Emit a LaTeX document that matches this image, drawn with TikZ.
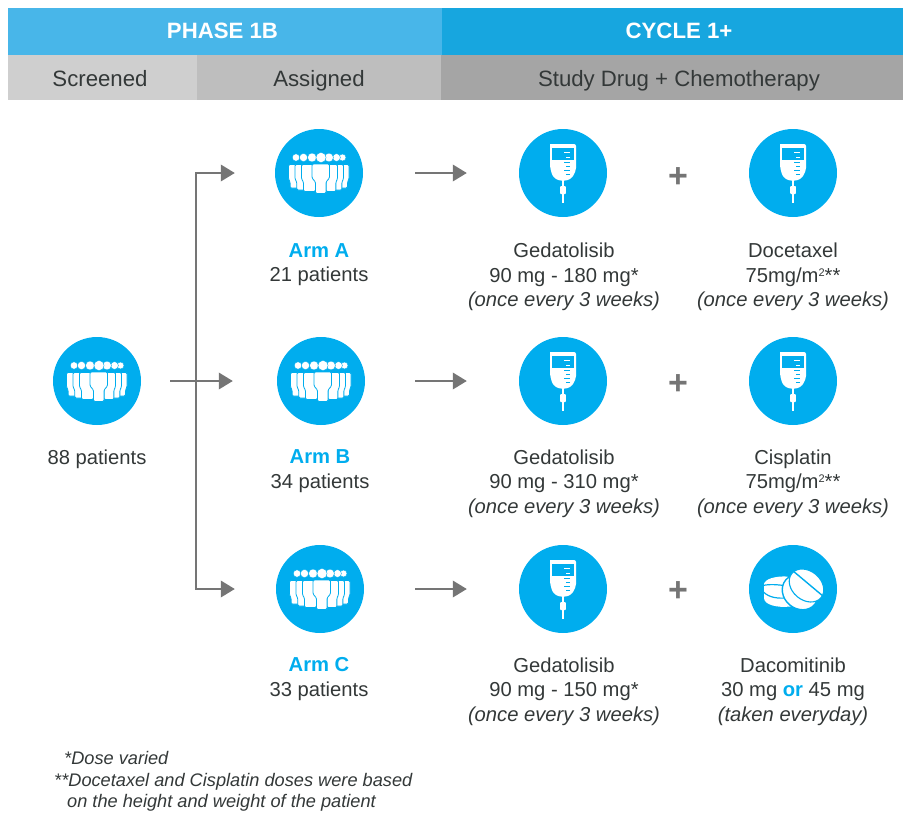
\documentclass[tikz,border=0pt]{standalone}
\usepackage{fontspec}
\setmainfont{Liberation Sans}
\usetikzlibrary{arrows.meta}
\definecolor{cblue}{HTML}{00ADEE}
\definecolor{hblueA}{HTML}{48B6E9}
\definecolor{hblueB}{HTML}{17A6DF}
\definecolor{greyA}{HTML}{CFCFCF}
\definecolor{greyB}{HTML}{BEBEBE}
\definecolor{greyC}{HTML}{A5A5A5}
\definecolor{txt}{HTML}{333838}
\definecolor{arrowc}{HTML}{757575}
\tikzset{
 x=1pt,y=-1pt,
 iconcirc/.style={circle,fill=cblue,draw=none,minimum size=88pt,inner sep=0pt},
 flowarrow/.style={draw=arrowc,line width=2pt,-{Triangle[length=14pt,width=16.5pt]}},
 hdr/.style={font=\fontsize{22.2}{26}\selectfont\bfseries,text=white,anchor=base,inner sep=0pt},
 sub/.style={font=\fontsize{22.2}{26}\selectfont,text=txt,anchor=base,inner sep=0pt},
 lab/.style={font=\fontsize{20.2}{24.5}\selectfont,text=txt,align=center,anchor=north,inner sep=0pt},
 plusn/.style={font=\fontsize{34}{34}\selectfont\bfseries,text=arrowc,anchor=center,inner sep=0pt},
 note/.style={font=\fontsize{18.2}{22.6}\selectfont\itshape,text=txt,align=left,anchor=north west,inner sep=0pt},
 body/.style={fill=white,draw=cblue,line width=.8pt},
 head/.style={fill=white,draw=cblue,line width=.4pt},
}
\newcommand{\peopleicon}{%
  \foreach \hx/\hr in {-23/3.7,-15.5/4.1,-7/4.5,23.5/3.5,17.5/3.9,10/4.4,2/5.1}
    \path[head] (\hx,-15.5) circle[radius=\hr];
  \foreach \bx/\by/\hw in {-24/15/6.5,24/15/6,-17/17/7,18/17/6.5,-9.5/18.5/8,12/18.5/6.5}
    \path[body,rounded corners=1.2pt] (\bx-\hw,-8.5) -- (\bx+\hw,-8.5) -- (\bx+\hw,6) -- (\bx+.75*\hw,9) -- (\bx+.75*\hw,\by) -- (\bx-.75*\hw,\by) -- (\bx-.75*\hw,9) -- (\bx-\hw,6) -- cycle;
  \path[body,rounded corners=1.2pt] (-7,-9) -- (10.5,-9) -- (10.5,5) -- (7,9) -- (7,20.5) -- (-3.5,20.5) -- (-3.5,9) -- (-7,5) -- cycle;
}
\newcommand{\bagicon}{%
  \fill[white,rounded corners=2pt] (-13,-29) -- (13,-29) -- (13,-3) [rounded corners=6pt]-- (8,7.5) -- (-8,7.5) -- (-13,-3) [sharp corners] -- cycle;
  \fill[cblue] (-10.7,-25.5) rectangle (10.7,-13);
  \foreach \yy/\xa in {-21/1,-16.5/3} \fill[white] (\xa,\yy) rectangle (7,\yy+1.4);
  \foreach \yy/\xa in {-11/1,-7/3,-3/1,1/3} \fill[cblue] (\xa,\yy) rectangle (7,\yy+1.3);
  \fill[white] (-1.1,7) rectangle (1.1,30);
  \fill[white,rounded corners=.8pt] (-2.8,13) rectangle (2.8,21);
}
\newcommand{\pillicon}{%
  \fill[white] (-29,-5) .. controls (-28,-10) and (-18,-13) .. (-6,-12.5) -- (2,-8) -- (2,16) -- (-3,17.5) .. controls (-15,19) and (-29,16) .. (-29,9) -- cycle;
  \draw[cblue,line width=1.2pt] (-30,-3.5) .. controls (-24,-5) and (-15,-4.5) .. (-6,-3);
  \draw[cblue,line width=1.2pt] (-30,2.5) .. controls (-24,9) and (-15,9.5) .. (-6,9);
  \begin{scope}[shift={(9.5,0.5)},rotate=-40]
   \path[fill=white,draw=cblue,line width=1.4pt] (0,3.5) ellipse[x radius=19,y radius=16.5];
  \end{scope}
  \begin{scope}[shift={(13.5,-3.5)},rotate=-40]
   \path[fill=white,draw=cblue,line width=1.1pt] (0,0) ellipse[x radius=19,y radius=14.5];
   \draw[cblue,line width=1.4pt] (-19,-2.5) -- (19,-2.5);
  \end{scope}
}
\begin{document}
\begin{tikzpicture}
\useasboundingbox (0,0) rectangle (903,812);
\fill[hblueA] (8,8) rectangle (442,55);
\fill[hblueB] (442,8) rectangle (903,55);
\fill[greyA] (8,55) rectangle (197,100);
\fill[greyB] (197,55) rectangle (441,100);
\fill[greyC] (441,55) rectangle (903,100);
\node[hdr] (h1) at (222.5,38.5) {PHASE 1B};
\node[hdr] (h2) at (679,38.5) {CYCLE 1+};
\node[sub] (s1) at (100,86) {Screened};
\node[sub] (s2) at (319,86) {Assigned};
\node[sub] (s3) at (679,86) {Study Drug + Chemotherapy};

\node[iconcirc] (p0) at (97,381) {};
\node[iconcirc] (pa) at (319,173) {};
\node[iconcirc] (pb) at (321,381) {};
\node[iconcirc] (pc) at (320,589) {};
\node[iconcirc] (ga) at (563,173) {};
\node[iconcirc] (gb) at (563,381) {};
\node[iconcirc] (gc) at (563,589) {};
\node[iconcirc] (da) at (793,173) {};
\node[iconcirc] (db) at (793,381) {};
\node[iconcirc] (dc) at (793,589) {};

\foreach \n in {p0,pa,pb,pc} {\begin{scope}[shift={(\n.center)}]\peopleicon\end{scope}}
\foreach \n in {ga,gb,gc,da,db} {\begin{scope}[shift={(\n.center)}]\bagicon\end{scope}}
\begin{scope}[shift={(dc.center)}]\pillicon\end{scope}

\coordinate (tk) at (196,381);
\draw[flowarrow,shorten <=29pt,shorten >=44pt] (p0.east) -- (pb.west);
\draw[flowarrow,shorten >=40pt] (tk) |- (pa.west);
\draw[flowarrow,shorten >=41pt] (tk) |- (pc.west);
\draw[flowarrow,shorten <=52pt,shorten >=52pt] (pa.east) -- (ga.west);
\draw[flowarrow,shorten <=50pt,shorten >=52pt] (pb.east) -- (gb.west);
\draw[flowarrow,shorten <=51pt,shorten >=52pt] (pc.east) -- (gc.west);

\node[plusn] (pl1) at (678,177.5) {+};
\node[plusn] (pl2) at (678,385) {+};
\node[plusn] (pl3) at (678,592) {+};

\node[lab] (t0) at (97,449.5) {88 patients};
\node[lab] (ta) at (319,243) {\textcolor{cblue}{\bfseries Arm A}\\21 patients};
\node[lab] (tb) at (320,449.5) {\textcolor{cblue}{\bfseries Arm B}\\34 patients};
\node[lab] (tc) at (319,657.5) {\textcolor{cblue}{\bfseries Arm C}\\33 patients};
\node[lab] (ga1) at (564,243) {Gedatolisib\\90 mg - 180 mg*\\\itshape (once every 3 weeks)};
\node[lab] (gb1) at (564,449.5) {Gedatolisib\\90 mg - 310 mg*\\\itshape (once every 3 weeks)};
\node[lab] (gc1) at (564,657.5) {Gedatolisib\\90 mg - 150 mg*\\\itshape (once every 3 weeks)};
\node[lab] (da1) at (793,243) {Docetaxel\\75mg/m\raisebox{.55ex}{\fontsize{11}{11}\selectfont 2}**\\\itshape (once every 3 weeks)};
\node[lab] (db1) at (793,449.5) {Cisplatin\\75mg/m\raisebox{.55ex}{\fontsize{11}{11}\selectfont 2}**\\\itshape (once every 3 weeks)};
\node[lab] (dc1) at (793,657.5) {Dacomitinib\\30 mg \textcolor{cblue}{\bfseries or} 45 mg\\\itshape (taken everyday)};

\node[note] (n1) at (64,751) {*Dose varied};
\node[note] (n2) at (54,773) {**Docetaxel and Cisplatin doses were based};
\node[note] (n3) at (67,794.5) {on the height and weight of the patient};
\end{tikzpicture}
\end{document}
